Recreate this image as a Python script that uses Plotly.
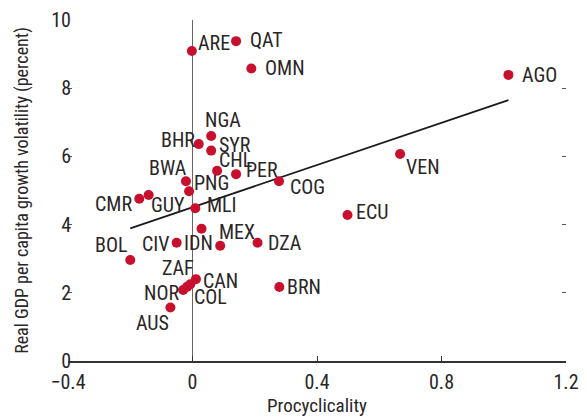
import plotly.graph_objects as go

# country codes, procyclicality (x) and real GDP per capita growth volatility (y)
countries = ["ARE", "QAT", "OMN", "NGA", "BHR", "SYR", "CHL", "PER", "COG", "BWA",
             "PNG", "CMR", "GUY", "MLI", "MEX", "IDN", "CIV", "DZA", "BOL", "ZAF",
             "CAN", "NOR", "COL", "AUS", "BRN", "VEN", "ECU", "AGO"]
procyc = [-0.002, 0.14, 0.189, 0.06, 0.02, 0.06, 0.079, 0.14, 0.278, -0.021,
          -0.011, -0.171, -0.141, 0.009, 0.029, 0.089, -0.051, 0.209, -0.20, -0.007,
          0.011, -0.03, -0.017, -0.071, 0.279, 0.667, 0.498, 1.015]
volat = [9.09, 9.38, 8.58, 6.60, 6.36, 6.17, 5.58, 5.48, 5.27, 5.27,
         4.98, 4.76, 4.87, 4.48, 3.88, 3.38, 3.47, 3.47, 2.96, 2.25,
         2.40, 2.08, 2.18, 1.57, 2.17, 6.07, 4.28, 8.39]

# fitted line endpoints
fit_x = [-0.2, 1.015]
fit_y = [3.89, 7.65]

# label placement: (xanchor, xshift, yshift)
label_pos = {
    "ARE": ("left", 4, 8), "QAT": ("left", 12, 1), "OMN": ("left", 12, 0),
    "NGA": ("center", 12, 16), "BHR": ("right", -2, 4), "SYR": ("left", 6, 6),
    "CHL": ("left", 0, 11), "PER": ("left", 8, 4), "COG": ("left", 9, -6),
    "BWA": ("right", 3, 13), "PNG": ("left", 3, 8), "CMR": ("right", -5, -5),
    "GUY": ("left", 0, -10), "MLI": ("left", 10, 3), "MEX": ("left", 15, -3),
    "IDN": ("right", -5, 3), "CIV": ("right", -5, -1), "DZA": ("left", 8, 0),
    "BOL": ("right", -1, 15), "ZAF": ("right", 6, 16), "CAN": ("left", 5, -2),
    "NOR": ("right", -2, -3), "COL": ("left", 5, -10), "AUS": ("right", 1, -16),
    "BRN": ("left", 6, 0), "VEN": ("left", 4, -13), "ECU": ("left", 6, 3),
    "AGO": ("left", 12, 0),
}

FONT = "Roboto Condensed, Liberation Sans Narrow, sans-serif"
TEXT = "#2a2627"
RED = "#c8102e"

fig = go.Figure()
fig.add_trace(go.Scatter(x=fit_x, y=fit_y, mode="lines",
                         line=dict(color="#1a1a1a", width=1.8), hoverinfo="skip"))
fig.add_trace(go.Scatter(x=procyc, y=volat, mode="markers",
                         marker=dict(color=RED, size=10), text=countries))

for c, x, y in zip(countries, procyc, volat):
    anchor, dx, dy = label_pos[c]
    fig.add_annotation(x=x, y=y, text=c, showarrow=False, xanchor=anchor,
                       yanchor="middle", xshift=dx, yshift=dy,
                       font=dict(family=FONT, size=20, color=TEXT))

# page has an 8px body margin, so the figure is 8px smaller than the window
fig.update_layout(
    width=579, height=410,
    paper_bgcolor="white", plot_bgcolor="white",
    margin=dict(l=60, r=21, t=12, b=57, autoexpand=False),
    showlegend=False,
    font=dict(family=FONT, size=20, color=TEXT),
    xaxis=dict(range=[-0.4, 1.2], tickvals=[-0.4, 0, 0.4, 0.8, 1.2],
               ticktext=["\u22120.4", "0", "0.4", "0.8", "1.2"], automargin=False,
               showgrid=False, zeroline=True, zerolinecolor="#666666", zerolinewidth=1,
               showline=True, linecolor="#333333", linewidth=1.5,
               ticks="inside", ticklen=5, tickcolor="#333333", ticklabelstandoff=2,
               title=dict(text="Procyclicality", standoff=0, font=dict(size=19))),
    yaxis=dict(range=[0, 10], tickvals=[0, 2, 4, 6, 8, 10], automargin=False,
               showgrid=False, zeroline=False, showline=False,
               ticks="inside", ticklen=4, tickcolor="#555555", mirror="ticks",
               ticklabelstandoff=-4,
               title=dict(text="Real GDP per capita growth volatility (percent)",
                          standoff=17, font=dict(size=18))),
)

fig.write_html("out.html")
